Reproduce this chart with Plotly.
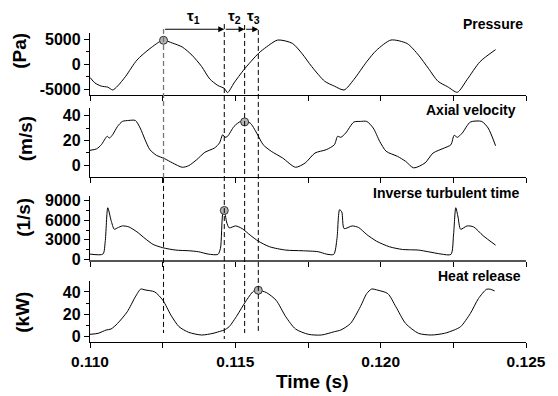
import plotly.graph_objects as go

# ---------------- data ----------------
time_p = [0.110000, 0.110167, 0.110390, 0.110612, 0.110780, 0.110947, 0.111225, 0.111615, 0.112060,
          0.112506, 0.112840, 0.113174, 0.113508, 0.113842, 0.114120, 0.114399, 0.114621, 0.114733,
          0.114956, 0.115290, 0.115791, 0.116069, 0.116459, 0.116960, 0.117294, 0.117628, 0.118074,
          0.118408, 0.118742, 0.119076, 0.119521, 0.119855, 0.120356, 0.120913, 0.121303, 0.121637,
          0.121971, 0.122305, 0.122639, 0.122973, 0.123419, 0.123953]
pressure = [-2600, -3680, -4320, -4520, -5080, -4320, -2390, 840, 3100,
            4750, 4190, 3420, 1810, -450, -2900, -4190, -4770, -5600,
            -3680, -1100, 2130, 3420, 4800, 4150, 2130, -450, -3350,
            -4320, -5080, -3030, 520, 2770, 4800, 4100, 1810, -770,
            -3350, -4450, -5530, -3030, 520, 2900]

time_v = [0.110000, 0.110223, 0.110390, 0.110523, 0.110590, 0.110668, 0.110780, 0.110947, 0.111114,
          0.111336, 0.111559, 0.111726, 0.111893, 0.112060, 0.112283, 0.112561, 0.112840, 0.113174,
          0.113396, 0.113675, 0.113953, 0.114287, 0.114454, 0.114566, 0.114644, 0.114733, 0.114956,
          0.115178, 0.115312, 0.115512, 0.115735, 0.115958, 0.116236, 0.116626, 0.117071, 0.117405,
          0.117740, 0.118129, 0.118408, 0.118519, 0.118630, 0.118797, 0.119076, 0.119299, 0.119521,
          0.119744, 0.119967, 0.120189, 0.120579, 0.120858, 0.121136, 0.121526, 0.121804, 0.122194,
          0.122417, 0.122528, 0.122639, 0.122806, 0.123085, 0.123475, 0.123697, 0.123953]
velocity = [12.1, 13.2, 16.6, 21.5, 23.4, 22.0, 24.7, 31.4, 35.4,
            36.2, 36.2, 30.1, 20.7, 12.6, 8.1, 5.4, 1.9, -1.6,
            -0.3, 4.6, 10.5, 14.0, 18.0, 24.7, 22.6, 23.4, 31.4,
            35.4, 35.4, 34.1, 26.0, 16.6, 11.3, 5.9, -1.6, 1.9,
            9.9, 12.6, 16.6, 23.4, 22.6, 26.0, 34.9, 35.4, 35.4,
            30.1, 19.3, 11.3, 7.2, 3.2, -2.1, 1.9, 9.9, 14.0,
            16.6, 24.2, 22.6, 26.0, 34.9, 35.4, 30.1, 15.8]

time_t = [0.110000, 0.110445, 0.110523, 0.110612, 0.110724, 0.110835, 0.110947, 0.111114, 0.111336,
          0.111615, 0.111893, 0.112172, 0.112506, 0.112951, 0.113396, 0.113731, 0.114065, 0.114399,
          0.114488, 0.114566, 0.114621, 0.114699, 0.114788, 0.115011, 0.115234, 0.115512, 0.115791,
          0.116180, 0.116737, 0.117294, 0.117851, 0.118129, 0.118385, 0.118497, 0.118586, 0.118664,
          0.118742, 0.119020, 0.119243, 0.119521, 0.119855, 0.120301, 0.120746, 0.121303, 0.121637,
          0.122083, 0.122417, 0.122506, 0.122584, 0.122662, 0.122751, 0.122973, 0.123196, 0.123530,
          0.123953]
inv_turb = [810, 810, 2690, 7920, 6000, 4620, 4830, 5130, 4980,
            4220, 3200, 2290, 1780, 1420, 1320, 1170, 810, 760,
            1680, 7010, 7500, 5740, 4830, 5130, 4720, 3710, 2790,
            1930, 1420, 1320, 1170, 810, 760, 3200, 7620, 7260,
            4720, 5130, 4880, 3810, 2790, 1930, 1520, 1420, 1170,
            810, 760, 3710, 7920, 6500, 4620, 5130, 4980, 3610,
            2180]

time_q = [0.110000, 0.110278, 0.110557, 0.110724, 0.110947, 0.111281, 0.111559, 0.111748, 0.111893,
          0.112227, 0.112506, 0.112784, 0.113062, 0.113396, 0.113842, 0.114232, 0.114510, 0.114621,
          0.114788, 0.115067, 0.115345, 0.115624, 0.115791, 0.116069, 0.116403, 0.116737, 0.117071,
          0.117517, 0.117962, 0.118408, 0.118630, 0.118964, 0.119299, 0.119521, 0.119688, 0.119911,
          0.120245, 0.120524, 0.120858, 0.121303, 0.121748, 0.122194, 0.122528, 0.122751, 0.123085,
          0.123363, 0.123642, 0.123775, 0.123920]
heat = [1.8, 2.7, 5.7, 6.6, 11.6, 22.1, 35.5, 42.6, 41.8,
        40.0, 32.5, 19.1, 8.7, 3.6, 1.2, 2.7, 4.8, 5.7,
        8.7, 19.1, 31.0, 40.6, 41.5, 39.4, 32.5, 17.6, 6.6,
        1.8, 1.2, 4.2, 5.7, 11.6, 26.6, 38.5, 42.6, 41.5,
        38.5, 26.6, 11.6, 2.7, 1.2, 2.7, 5.7, 8.7, 20.6,
        34.0, 42.4, 42.4, 40.9]

# event times (dashed lines) and marker values
event_t = [0.11253, 0.11462, 0.11532, 0.11579]
marker_p = 4750
marker_t = 7500
marker_v = 35.0
marker_q = 41.5
tau_labels = ["τ<sub>1</sub>", "τ<sub>2</sub>", "τ<sub>3</sub>"]
tau_label_t = [0.11357, 0.11497, 0.11562]

panel_names = ["Pressure", "Axial velocity", "Inverse turbulent time", "Heat release"]
unit_names = ["(Pa)", "(m/s)", "(1/s)", "(kW)"]

p_ticks, p_text, p_minor = [-5000, 0, 5000], ["-5000", "0", "5000"], [-2500, 2500]
v_ticks, v_text, v_minor = [0, 20, 40], ["0", "20", "40"], [10, 30]
t_ticks, t_text, t_minor = [0, 3000, 6000, 9000], ["0", "3000", "6000", "9000"], [1500, 4500, 7500]
q_ticks, q_text, q_minor = [0, 20, 40], ["0", "20", "40"], [10, 30]
x_ticks = [0.110, 0.115, 0.120, 0.125]
x_text = ["0.110", "0.115", "0.120", "0.125"]
x_minor = [0.1125, 0.1175, 0.1225]

# ---------------- figure ----------------
FONT = "Liberation Sans, Arial, sans-serif"
fig = go.Figure()
line_style = dict(color="black", width=1, shape="spline", smoothing=0.7)
series = [(time_p, pressure, "x", "y"), (time_v, velocity, "x2", "y2"),
          (time_t, inv_turb, "x3", "y3"), (time_q, heat, "x4", "y4")]
for tx, vals, xa, ya in series:
    fig.add_trace(go.Scatter(x=tx, y=vals, mode="lines", line=line_style,
                             xaxis=xa, yaxis=ya, hoverinfo="skip"))

marker_style = dict(size=8, color="#b4b4b4", line=dict(color="#333", width=1))
for tx, val, xa, ya in [(event_t[0], marker_p, "x", "y"), (event_t[2], marker_v, "x2", "y2"),
                        (event_t[1], marker_t, "x3", "y3"), (event_t[3], marker_q, "x4", "y4")]:
    fig.add_trace(go.Scatter(x=[tx], y=[val], mode="markers", marker=marker_style,
                             xaxis=xa, yaxis=ya, hoverinfo="skip"))

ytickfont = dict(family=FONT, size=16, color="black", weight="bold")
xtickfont = dict(family=FONT, size=15.5, color="black", weight="bold")

def xaxis(show_labels, anchor, lw=1.3, lc="black"):
    return dict(domain=[0, 1], range=[0.110, 0.125], anchor=anchor, matches=None if anchor == "y" else "x",
                showline=True, linecolor=lc, linewidth=lw, ticks="outside", ticklen=5,
                tickwidth=1.2, tickcolor="black", tickmode="array", tickvals=x_ticks, ticktext=x_text,
                minor=dict(tickvals=x_minor, ticks="outside", ticklen=5, tickwidth=1.2, tickcolor="black"),
                showticklabels=show_labels, tickfont=xtickfont, ticklabeloverflow="allow",
                showgrid=False, zeroline=False)

def yaxis(domain, rng, tv, tt, mv, anchor):
    return dict(domain=domain, range=rng, anchor=anchor, showline=True, linecolor="black", linewidth=1.3,
                ticks="outside", ticklen=5, tickwidth=1.2, tickcolor="black", tickmode="array",
                tickvals=tv, ticktext=tt,
                minor=dict(tickvals=mv, ticks="outside", ticklen=3, tickwidth=1.2, tickcolor="black"),
                tickfont=ytickfont, showgrid=False, zeroline=False)

fig.update_layout(
    width=558, height=396, margin=dict(l=90, r=20, t=33, b=54),
    plot_bgcolor="white", paper_bgcolor="white", showlegend=False,
    font=dict(family=FONT, color="black"),
    xaxis=xaxis(False, "y"), xaxis2=xaxis(False, "y2"),
    xaxis3=xaxis(False, "y3", lw=2, lc="#555"), xaxis4=xaxis(True, "y4"),
    yaxis=yaxis([0.7994, 1.0], [-6070, 6190], p_ticks, p_text, p_minor, "x"),
    yaxis2=yaxis([0.5350, 0.7563], [-9.2, 46], v_ticks, v_text, v_minor, "x2"),
    yaxis3=yaxis([0.2654, 0.4741], [-100, 9800], t_ticks, t_text, t_minor, "x3"),
    yaxis4=yaxis([0.0, 0.198], [-5.1, 50], q_ticks, q_text, q_minor, "x4"),
)

# dashed event lines
dash = "5px,3px"
fig.add_shape(type="line", xref="x", yref="paper", x0=event_t[0], x1=event_t[0], y0=1.013, y1=0.531,
              line=dict(color="#777", width=1.3, dash=dash))
fig.add_shape(type="line", xref="x", yref="paper", x0=event_t[0], x1=event_t[0], y0=0.531, y1=0.029,
              line=dict(color="black", width=1, dash=dash))
for tx, top, bot in [(event_t[1], 1.029, 0.0097), (event_t[2], 1.026, 0.029), (event_t[3], 1.010, 0.029)]:
    fig.add_shape(type="line", xref="x", yref="paper", x0=tx, x1=tx, y0=top, y1=bot,
                  line=dict(color="black", width=1, dash=dash))

# arrows between events
for i in range(3):
    fig.add_annotation(x=event_t[i + 1], y=1.012, xref="x", yref="paper",
                       ax=event_t[i], ay=0, axref="x", ayref="pixel", text="",
                       showarrow=True, arrowhead=2, arrowsize=1.1, arrowwidth=1.1,
                       arrowcolor="black", standoff=0, startstandoff=0)
    fig.add_annotation(x=tau_label_t[i], y=1.052, xref="x", yref="paper", text="<b>" + tau_labels[i] + "</b>",
                       showarrow=False, font=dict(family=FONT, size=15, color="black"),
                       xanchor="center", yanchor="middle")

# panel labels
for name, yy, xs in zip(panel_names, [1.029, 0.751, 0.483, 0.2146], [-1, -8, -5, -3]):
    fig.add_annotation(x=1, y=yy, xref="paper", yref="paper", text=name, showarrow=False,
                       xanchor="right", yanchor="middle", xshift=xs,
                       font=dict(family=FONT, size=14, color="black", weight="bold"))

# unit labels (y axis titles)
for name, xx, yy in zip(unit_names, [-0.1607, -0.1473, -0.154, -0.154], [0.942, 0.6586, 0.4045, 0.0971]):
    fig.add_annotation(x=xx, y=yy, xref="paper", yref="paper", text=name, showarrow=False,
                       textangle=-90, xanchor="center", yanchor="middle",
                       font=dict(family=FONT, size=19, color="black", weight="bold"))

fig.add_annotation(x=0.511, y=-0.1285, xref="paper", yref="paper", text="Time (s)", showarrow=False,
                   xanchor="center", yanchor="middle",
                   font=dict(family=FONT, size=19, color="black", weight="bold"))

fig.write_html("out.html")
